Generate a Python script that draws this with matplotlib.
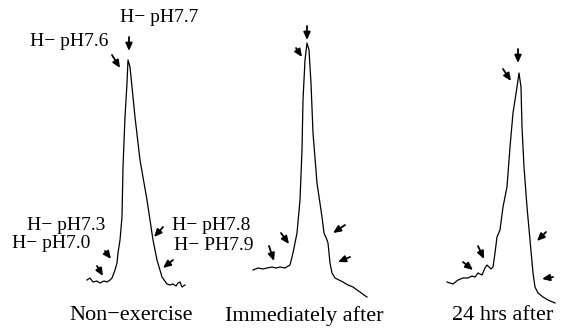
import matplotlib
matplotlib.use("Agg")
import matplotlib.pyplot as plt

# Traces (horizontal position, signal height in image units; larger = lower)
non_x = [87, 90, 93, 97, 100, 104, 107, 110, 112, 115, 117, 118, 120, 122, 123, 125, 127, 128,
         130, 135, 140, 147, 153, 157, 162, 167, 170, 173, 176, 178, 180, 182, 185]
non_y = [280, 278, 282, 281, 283, 281, 282, 280, 278, 270, 263, 253, 240, 217, 167, 117, 83, 60,
         67, 117, 160, 200, 240, 260, 277, 284, 285, 284, 286, 283, 282, 287, 285]

imm_x = [253, 258, 263, 267, 272, 276, 280, 285, 290, 293, 297, 300, 302, 303, 305, 307,
         309, 311, 313, 317, 322, 324, 327, 328, 330, 332, 335, 339, 343, 348, 353, 357, 360, 364, 367]
imm_y = [270, 268, 269, 268, 267, 268, 267, 268, 265, 253, 233, 200, 150, 100, 60, 43,
         50, 83, 133, 183, 217, 233, 240, 243, 263, 273, 278, 280, 282, 285, 287, 290, 292, 295, 297]

hrs_x = [447, 450, 453, 458, 463, 468, 472, 475, 478, 482, 485, 487, 489, 491, 493, 495, 497, 500,
         503, 507, 510, 513, 517, 519, 521, 522, 524, 527, 530, 533, 535, 538, 543, 548, 555]
hrs_y = [282, 283, 284, 280, 278, 278, 276, 277, 273, 275, 268, 265, 267, 269, 267, 253, 237, 230,
         207, 187, 147, 113, 87, 73, 87, 127, 167, 207, 240, 273, 287, 293, 297, 300, 303]

group_labels = ["Non\u2212exercise", "Immediately after", "24 hrs after"]
peak_labels = ["H\u2212 pH7.7", "H\u2212 pH7.6", "H\u2212 pH7.3", "H\u2212 pH7.0", "H\u2212 pH7.8", "H\u2212 PH7.9"]

fig = plt.figure(figsize=(5.72, 3.33), dpi=100)
ax = fig.add_axes([0, 0, 1, 1])
ax.set_xlim(0, 572)
ax.set_ylim(333, 0)
ax.axis("off")

for xs, ys in [(non_x, non_y), (imm_x, imm_y), (hrs_x, hrs_y)]:
    ax.plot(xs, ys, color="black", lw=0.9)

arrows = [
    # non-exercise
    ((129, 37), (129, 51)), ((112, 55), (120, 68)), ((105, 251), (111, 259)),
    ((97, 266), (103, 276)), ((163, 227), (154, 237)), ((173, 260), (163, 268)),
    # immediately after
    ((307, 26), (307, 40)), ((296, 48), (302, 57)), ((345, 225), (333, 233)),
    ((350, 257), (338, 262)), ((281, 233), (289, 244)), ((269, 246), (274, 261)),
    # 24 hrs after
    ((518, 49), (518, 63)), ((503, 69), (511, 81)), ((546, 232), (537, 241)),
    ((553, 277), (542, 279)), ((478, 246), (484, 259)), ((463, 262), (473, 270)),
]
for tail, head in arrows:
    ax.annotate("", xy=head, xytext=tail,
                arrowprops=dict(arrowstyle="-|>,head_length=0.45,head_width=0.2",
                                color="black", lw=1.3, shrinkA=0, shrinkB=0))

fam = ["Liberation Serif", "DejaVu Serif"]
label_pos = [(159, 17), (69, 42), (66, 226), (51, 243), (211, 226), (214, 246)]
for (x, y), t in zip(label_pos, peak_labels):
    ax.text(x, y, t, ha="center", va="center", fontsize=14, family=fam)

group_pos = [(131, 316), (304, 316), (503, 316)]
for (x, y), t in zip(group_pos, group_labels):
    ax.text(x, y, t, ha="center", va="center", fontsize=16, family=fam)

fig.savefig("out.png", dpi=100, facecolor="white")
